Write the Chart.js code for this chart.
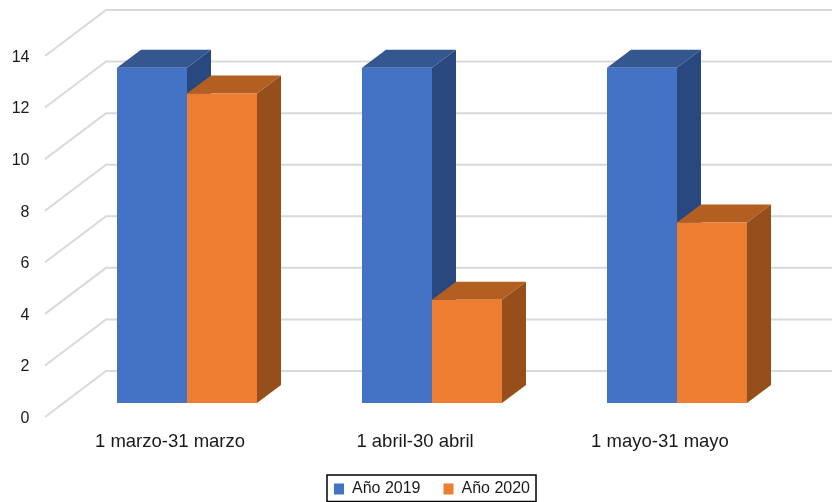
<!DOCTYPE html>
<html>
<head>
<meta charset="utf-8">
<title>Año 2019 / Año 2020</title>
<script src="https://cdn.jsdelivr.net/npm/chart.js@4/dist/chart.umd.min.js"></script>
<style>
    html, body { margin: 0; padding: 0; background: #fff; overflow: hidden; }
    canvas { display: block; }
</style>
</head>
<body>
<canvas id="chart" width="832" height="502"></canvas>
<script>
const categories = ["1 marzo-31 marzo", "1 abril-30 abril", "1 mayo-31 mayo"];
const values2019 = [13, 13, 13];
const values2020 = [12, 4, 7];
const yTicks = [0, 2, 4, 6, 8, 10, 12, 14];

const FONT = "'Liberation Sans', Helvetica, Arial, sans-serif";
const TEXT = "#1a1a1a";

// depth of the fake 3D
const wallDx = 61, wallDy = 46;
const barDx = 24, barDy = 18;

const sideColors = ["#2a4880", "#964f1a"];
const topColors = ["#34578f", "#b45f22"];

function poly(ctx, pts, color) {
    ctx.fillStyle = color;
    ctx.beginPath();
    pts.forEach((p, i) => i ? ctx.lineTo(p[0], p[1]) : ctx.moveTo(p[0], p[1]));
    ctx.closePath();
    ctx.fill();
}

const fake3d = {
    id: "fake3d",
    beforeDatasetsDraw(chart) {
        const ctx = chart.ctx;
        const y = chart.scales.y;

        // floor and back wall lines
        ctx.save();
        ctx.strokeStyle = "#d9d9d9";
        ctx.lineWidth = 2;
        yTicks.forEach(t => {
            const py = y.getPixelForValue(t);
            ctx.beginPath();
            ctx.moveTo(y.right - 19.5, py);
            ctx.lineTo(y.right - 19.5 + wallDx, py - wallDy);
            ctx.lineTo(chart.width, py - wallDy);
            ctx.stroke();
        });

        // top and side faces, blue first so orange sits over it
        [0, 1].forEach(d => {
            chart.getDatasetMeta(d).data.forEach(bar => {
                const l = bar.x - bar.width / 2, r = bar.x + bar.width / 2;
                const t = bar.y, b = bar.base;
                poly(ctx, [[l, t], [l + barDx, t - barDy], [r + barDx, t - barDy], [r, t]], topColors[d]);
                poly(ctx, [[r, t], [r + barDx, t - barDy], [r + barDx, b - barDy], [r, b]], sideColors[d]);
            });
        });
        ctx.restore();
    },
    afterDraw(chart) {
        // box round the legend
        const boxes = chart.legend.legendHitBoxes;
        const a = boxes[0], z = boxes[boxes.length - 1];
        const ctx = chart.ctx;
        ctx.save();
        ctx.strokeStyle = "#000";
        ctx.lineWidth = 1.5;
        ctx.strokeRect(a.left - 7, a.top - 6, z.left + z.width - a.left + 13, 26.5);
        ctx.restore();
    }
};

new Chart(document.getElementById("chart"), {
    type: "bar",
    data: {
        labels: categories,
        datasets: [
            { label: "Año 2019", data: values2019, backgroundColor: "#4472c4", yAxisID: "bars" },
            { label: "Año 2020", data: values2020, backgroundColor: "#ed7d31", yAxisID: "bars" }
        ]
    },
    options: {
        responsive: false,
        animation: false,
        devicePixelRatio: 1,
        categoryPercentage: 0.5714,
        barPercentage: 1,
        layout: { padding: { top: 56, right: 32.5, bottom: -5, left: 0 } },
        plugins: {
            title: { display: false },
            tooltip: { enabled: false },
            legend: {
                position: "bottom",
                fullSize: false,
                labels: {
                    boxWidth: 10,
                    boxHeight: 11,
                    padding: 23,
                    color: TEXT,
                    font: { family: FONT, size: 16 }
                }
            }
        },
        scales: {
            x: {
                grid: { display: false },
                border: { display: false },
                ticks: {
                    color: TEXT,
                    padding: 6,
                    labelOffset: -17,
                    maxRotation: 0,
                    font: { family: FONT, size: 18.5 }
                },
                afterFit(scale) { scale.height = 41; }
            },
            y: {
                position: "left",
                min: 0,
                max: 14,
                grid: { display: false },
                border: { display: false },
                afterBuildTicks(scale) { scale.ticks = yTicks.map(v => ({ value: v })); },
                ticks: {
                    color: TEXT,
                    padding: 27,
                    labelOffset: 1.5,
                    font: { family: FONT, size: 16 }
                },
                afterFit(scale) { scale.width = 64.5; }
            },
            // the bars stand on a plane further back than the tick plane
            bars: {
                display: false,
                position: "left",
                min: -0.543,
                max: 13.457
            }
        }
    },
    plugins: [fake3d]
});
</script>
</body>
</html>
